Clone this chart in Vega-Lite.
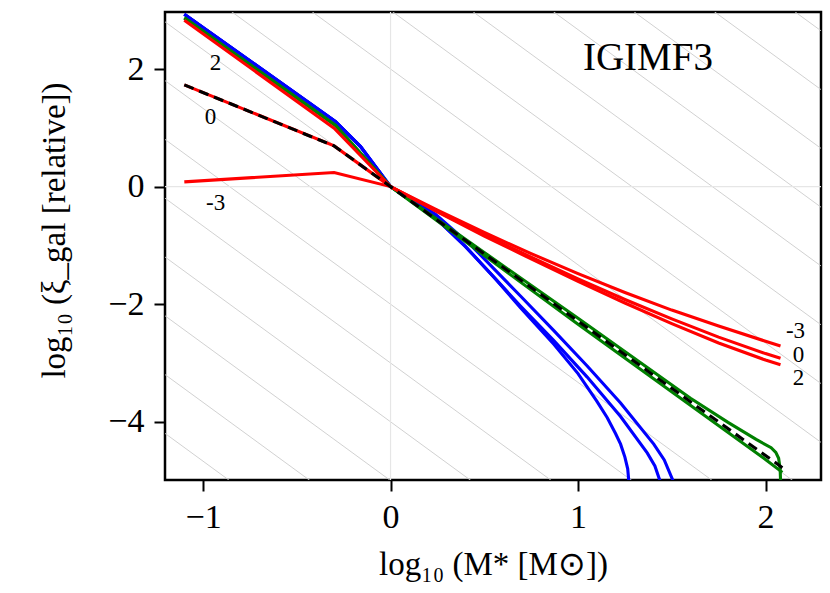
{
  "$schema": "https://vega.github.io/schema/vega-lite/v6.json",
  "width": 656,
  "height": 468,
  "autosize": {"type": "none"},
  "padding": {"left": 165, "top": 12, "right": 9, "bottom": 113},
  "background": "white",
  "config": {
    "view": {"stroke": "black", "strokeWidth": 2.5},
    "font": "Liberation Serif",
    "axis": {
      "labelFont": "Liberation Serif",
      "labelFontSize": 34,
      "labelColor": "black",
      "titleFont": "Liberation Serif",
      "titleFontSize": 33,
      "titleFontWeight": "normal",
      "titleColor": "black",
      "tickColor": "black",
      "tickWidth": 2,
      "tickSize": 11,
      "domain": false,
      "grid": false,
      "format": "d"
    }
  },
  "datasets": {
    "curves": [
      {"s": "B1", "g": "blue", "x": -1.1, "y": 2.93},
      {"s": "B1", "g": "blue", "x": -0.293, "y": 1.106},
      {"s": "B1", "g": "blue", "x": -0.16, "y": 0.68},
      {"s": "B1", "g": "blue", "x": 0, "y": 0},
      {"s": "B1", "g": "blue", "x": 0.213, "y": -0.45},
      {"s": "B1", "g": "blue", "x": 0.4, "y": -1.02},
      {"s": "B1", "g": "blue", "x": 0.56, "y": -1.57},
      {"s": "B1", "g": "blue", "x": 0.693, "y": -2.06},
      {"s": "B1", "g": "blue", "x": 0.871, "y": -2.68},
      {"s": "B1", "g": "blue", "x": 1.0, "y": -3.18},
      {"s": "B1", "g": "blue", "x": 1.1, "y": -3.65},
      {"s": "B1", "g": "blue", "x": 1.156, "y": -3.93},
      {"s": "B1", "g": "blue", "x": 1.2, "y": -4.2},
      {"s": "B1", "g": "blue", "x": 1.227, "y": -4.38},
      {"s": "B1", "g": "blue", "x": 1.25, "y": -4.6},
      {"s": "B1", "g": "blue", "x": 1.265, "y": -4.8},
      {"s": "B1", "g": "blue", "x": 1.272, "y": -5.05},
      {"s": "B2", "g": "blue", "x": -1.1, "y": 2.93},
      {"s": "B2", "g": "blue", "x": -0.293, "y": 1.106},
      {"s": "B2", "g": "blue", "x": -0.16, "y": 0.68},
      {"s": "B2", "g": "blue", "x": 0, "y": 0},
      {"s": "B2", "g": "blue", "x": 0.213, "y": -0.45},
      {"s": "B2", "g": "blue", "x": 0.4, "y": -1.02},
      {"s": "B2", "g": "blue", "x": 0.56, "y": -1.57},
      {"s": "B2", "g": "blue", "x": 0.693, "y": -2.03},
      {"s": "B2", "g": "blue", "x": 0.871, "y": -2.62},
      {"s": "B2", "g": "blue", "x": 1.049, "y": -3.24},
      {"s": "B2", "g": "blue", "x": 1.227, "y": -3.91},
      {"s": "B2", "g": "blue", "x": 1.369, "y": -4.53},
      {"s": "B2", "g": "blue", "x": 1.41, "y": -4.75},
      {"s": "B2", "g": "blue", "x": 1.442, "y": -5.05},
      {"s": "B3", "g": "blue", "x": -1.1, "y": 2.93},
      {"s": "B3", "g": "blue", "x": -0.293, "y": 1.106},
      {"s": "B3", "g": "blue", "x": -0.16, "y": 0.68},
      {"s": "B3", "g": "blue", "x": 0, "y": 0},
      {"s": "B3", "g": "blue", "x": 0.24, "y": -0.47},
      {"s": "B3", "g": "blue", "x": 0.436, "y": -1.02},
      {"s": "B3", "g": "blue", "x": 0.604, "y": -1.57},
      {"s": "B3", "g": "blue", "x": 0.693, "y": -1.86},
      {"s": "B3", "g": "blue", "x": 0.871, "y": -2.45},
      {"s": "B3", "g": "blue", "x": 1.049, "y": -3.05},
      {"s": "B3", "g": "blue", "x": 1.227, "y": -3.68},
      {"s": "B3", "g": "blue", "x": 1.404, "y": -4.38},
      {"s": "B3", "g": "blue", "x": 1.46, "y": -4.65},
      {"s": "B3", "g": "blue", "x": 1.513, "y": -5.05},
      {"s": "G1", "g": "green", "x": -1.1, "y": 2.87},
      {"s": "G1", "g": "green", "x": -0.293, "y": 1.04},
      {"s": "G1", "g": "green", "x": 0, "y": 0},
      {"s": "G1", "g": "green", "x": 0.5, "y": -1.12},
      {"s": "G1", "g": "green", "x": 1.0, "y": -2.24},
      {"s": "G1", "g": "green", "x": 1.3, "y": -2.92},
      {"s": "G1", "g": "green", "x": 1.6, "y": -3.6},
      {"s": "G1", "g": "green", "x": 1.8, "y": -4.01},
      {"s": "G1", "g": "green", "x": 1.95, "y": -4.3},
      {"s": "G1", "g": "green", "x": 2.03, "y": -4.44},
      {"s": "G1", "g": "green", "x": 2.055, "y": -4.52},
      {"s": "G1", "g": "green", "x": 2.07, "y": -4.62},
      {"s": "G1", "g": "green", "x": 2.078, "y": -4.8},
      {"s": "G1", "g": "green", "x": 2.081, "y": -5.05},
      {"s": "G2", "g": "green", "x": -1.1, "y": 2.87},
      {"s": "G2", "g": "green", "x": -0.293, "y": 1.04},
      {"s": "G2", "g": "green", "x": 0, "y": 0},
      {"s": "G2", "g": "green", "x": 1.0, "y": -2.34},
      {"s": "G2", "g": "green", "x": 2.0, "y": -4.64},
      {"s": "G2", "g": "green", "x": 2.09, "y": -4.86},
      {"s": "R2", "g": "red", "x": -1.1, "y": 2.83},
      {"s": "R2", "g": "red", "x": -0.301, "y": 0.993},
      {"s": "R2", "g": "red", "x": 0, "y": 0},
      {"s": "R2", "g": "red", "x": 0.25, "y": -0.43},
      {"s": "R2", "g": "red", "x": 0.5, "y": -0.84},
      {"s": "R2", "g": "red", "x": 0.75, "y": -1.23},
      {"s": "R2", "g": "red", "x": 1.0, "y": -1.61},
      {"s": "R2", "g": "red", "x": 1.25, "y": -1.98},
      {"s": "R2", "g": "red", "x": 1.5, "y": -2.33},
      {"s": "R2", "g": "red", "x": 1.75, "y": -2.66},
      {"s": "R2", "g": "red", "x": 2.0, "y": -2.95},
      {"s": "R2", "g": "red", "x": 2.08, "y": -3.03},
      {"s": "R0", "g": "red", "x": -1.1, "y": 1.73},
      {"s": "R0", "g": "red", "x": -0.301, "y": 0.692},
      {"s": "R0", "g": "red", "x": 0, "y": 0},
      {"s": "R0", "g": "red", "x": 0.25, "y": -0.42},
      {"s": "R0", "g": "red", "x": 0.5, "y": -0.82},
      {"s": "R0", "g": "red", "x": 0.75, "y": -1.2},
      {"s": "R0", "g": "red", "x": 1.0, "y": -1.57},
      {"s": "R0", "g": "red", "x": 1.25, "y": -1.92},
      {"s": "R0", "g": "red", "x": 1.5, "y": -2.25},
      {"s": "R0", "g": "red", "x": 1.75, "y": -2.56},
      {"s": "R0", "g": "red", "x": 2.0, "y": -2.84},
      {"s": "R0", "g": "red", "x": 2.08, "y": -2.92},
      {"s": "Rm3", "g": "red", "x": -1.1, "y": 0.081},
      {"s": "Rm3", "g": "red", "x": -0.301, "y": 0.241},
      {"s": "Rm3", "g": "red", "x": 0, "y": 0},
      {"s": "Rm3", "g": "red", "x": 0.25, "y": -0.4},
      {"s": "Rm3", "g": "red", "x": 0.5, "y": -0.78},
      {"s": "Rm3", "g": "red", "x": 0.75, "y": -1.14},
      {"s": "Rm3", "g": "red", "x": 1.0, "y": -1.48},
      {"s": "Rm3", "g": "red", "x": 1.25, "y": -1.8},
      {"s": "Rm3", "g": "red", "x": 1.5, "y": -2.1},
      {"s": "Rm3", "g": "red", "x": 1.75, "y": -2.37},
      {"s": "Rm3", "g": "red", "x": 2.0, "y": -2.63},
      {"s": "Rm3", "g": "red", "x": 2.08, "y": -2.71},
      {"s": "K", "g": "black", "x": -1.1, "y": 1.73},
      {"s": "K", "g": "black", "x": -0.301, "y": 0.692},
      {"s": "K", "g": "black", "x": 0, "y": 0},
      {"s": "K", "g": "black", "x": 2.09, "y": -4.78}
    ],
    "guides": [
      {"c": -7, "x1": -1.3, "y1": -3.971, "x2": 2.4, "y2": -12.592},
      {"c": -6, "x1": -1.3, "y1": -2.971, "x2": 2.4, "y2": -11.592},
      {"c": -5, "x1": -1.3, "y1": -1.971, "x2": 2.4, "y2": -10.592},
      {"c": -4, "x1": -1.3, "y1": -0.971, "x2": 2.4, "y2": -9.592},
      {"c": -3, "x1": -1.3, "y1": 0.029, "x2": 2.4, "y2": -8.592},
      {"c": -2, "x1": -1.3, "y1": 1.029, "x2": 2.4, "y2": -7.592},
      {"c": -1, "x1": -1.3, "y1": 2.029, "x2": 2.4, "y2": -6.592},
      {"c": 0, "x1": -1.3, "y1": 3.029, "x2": 2.4, "y2": -5.592},
      {"c": 1, "x1": -1.3, "y1": 4.029, "x2": 2.4, "y2": -4.592},
      {"c": 2, "x1": -1.3, "y1": 5.029, "x2": 2.4, "y2": -3.592},
      {"c": 3, "x1": -1.3, "y1": 6.029, "x2": 2.4, "y2": -2.592},
      {"c": 4, "x1": -1.3, "y1": 7.029, "x2": 2.4, "y2": -1.592},
      {"c": 5, "x1": -1.3, "y1": 8.029, "x2": 2.4, "y2": -0.592},
      {"c": 6, "x1": -1.3, "y1": 9.029, "x2": 2.4, "y2": 0.408},
      {"c": 7, "x1": -1.3, "y1": 10.029, "x2": 2.4, "y2": 1.408},
      {"c": 8, "x1": -1.3, "y1": 11.029, "x2": 2.4, "y2": 2.408}
    ],
    "labels": [
      {"t": "2", "x": -0.933, "y": 2.1},
      {"t": "0", "x": -0.96, "y": 1.19},
      {"t": "-3", "x": -0.933, "y": -0.28},
      {"t": "-3", "x": 2.16, "y": -2.45},
      {"t": "0", "x": 2.176, "y": -2.86},
      {"t": "2", "x": 2.176, "y": -3.25}
    ]
  },
  "layer": [
    {
      "data": {"name": "guides"},
      "mark": {"type": "rule", "clip": true, "color": "#cccccc", "strokeWidth": 0.9},
      "encoding": {
        "x": {
          "field": "x1",
          "type": "quantitative",
          "scale": {"domain": [-1.203, 2.296], "nice": false, "zero": false},
          "axis": {"values": [-1, 0, 1, 2], "title": "log₁₀ (M* [M⊙])", "labelPadding": 9, "titleY": 84, "titleBaseline": "middle"}
        },
        "y": {
          "field": "y1",
          "type": "quantitative",
          "scale": {"domain": [-4.99, 2.97], "nice": false, "zero": false},
          "axis": {"values": [-4, -2, 0, 2], "title": "log₁₀ (ξ_gal [relative])", "labelPadding": 10, "titleX": -111, "titleY": 218, "titleBaseline": "middle"}
        },
        "x2": {"field": "x2"},
        "y2": {"field": "y2"}
      }
    },
    {
      "data": {"values": [{"v": 0}]},
      "mark": {"type": "rule", "color": "#e6e6e6", "strokeWidth": 1.2},
      "encoding": {"x": {"field": "v", "type": "quantitative"}}
    },
    {
      "data": {"values": [{"v": 0}]},
      "mark": {"type": "rule", "color": "#e6e6e6", "strokeWidth": 1.2},
      "encoding": {"y": {"field": "v", "type": "quantitative"}}
    },
    {
      "data": {"name": "curves"},
      "transform": [{"filter": "datum.g == 'blue'"}],
      "mark": {"type": "line", "clip": true, "color": "#0000ff", "strokeWidth": 3.1},
      "encoding": {
        "x": {"field": "x", "type": "quantitative"},
        "y": {"field": "y", "type": "quantitative"},
        "detail": {"field": "s"}
      }
    },
    {
      "data": {"name": "curves"},
      "transform": [{"filter": "datum.g == 'green'"}],
      "mark": {"type": "line", "clip": true, "color": "#008000", "strokeWidth": 3.1},
      "encoding": {
        "x": {"field": "x", "type": "quantitative"},
        "y": {"field": "y", "type": "quantitative"},
        "detail": {"field": "s"}
      }
    },
    {
      "data": {"name": "curves"},
      "transform": [{"filter": "datum.g == 'red'"}],
      "mark": {"type": "line", "clip": true, "color": "#ff0000", "strokeWidth": 3.1},
      "encoding": {
        "x": {"field": "x", "type": "quantitative"},
        "y": {"field": "y", "type": "quantitative"},
        "detail": {"field": "s"}
      }
    },
    {
      "data": {"name": "curves"},
      "transform": [{"filter": "datum.g == 'black'"}],
      "mark": {"type": "line", "clip": true, "color": "black", "strokeWidth": 3.1, "strokeDash": [10, 6]},
      "encoding": {
        "x": {"field": "x", "type": "quantitative"},
        "y": {"field": "y", "type": "quantitative"}
      }
    },
    {
      "data": {"name": "labels"},
      "mark": {"type": "text", "font": "Liberation Serif", "fontSize": 23, "color": "black", "align": "center", "baseline": "middle"},
      "encoding": {
        "x": {"field": "x", "type": "quantitative"},
        "y": {"field": "y", "type": "quantitative"},
        "text": {"field": "t"}
      }
    },
    {
      "data": {"values": [{"t": "IGIMF3", "x": 1.373, "y": 2.18}]},
      "mark": {"type": "text", "font": "Liberation Serif", "fontSize": 39, "color": "black", "align": "center", "baseline": "middle"},
      "encoding": {
        "x": {"field": "x", "type": "quantitative"},
        "y": {"field": "y", "type": "quantitative"},
        "text": {"field": "t"}
      }
    }
  ]
}
